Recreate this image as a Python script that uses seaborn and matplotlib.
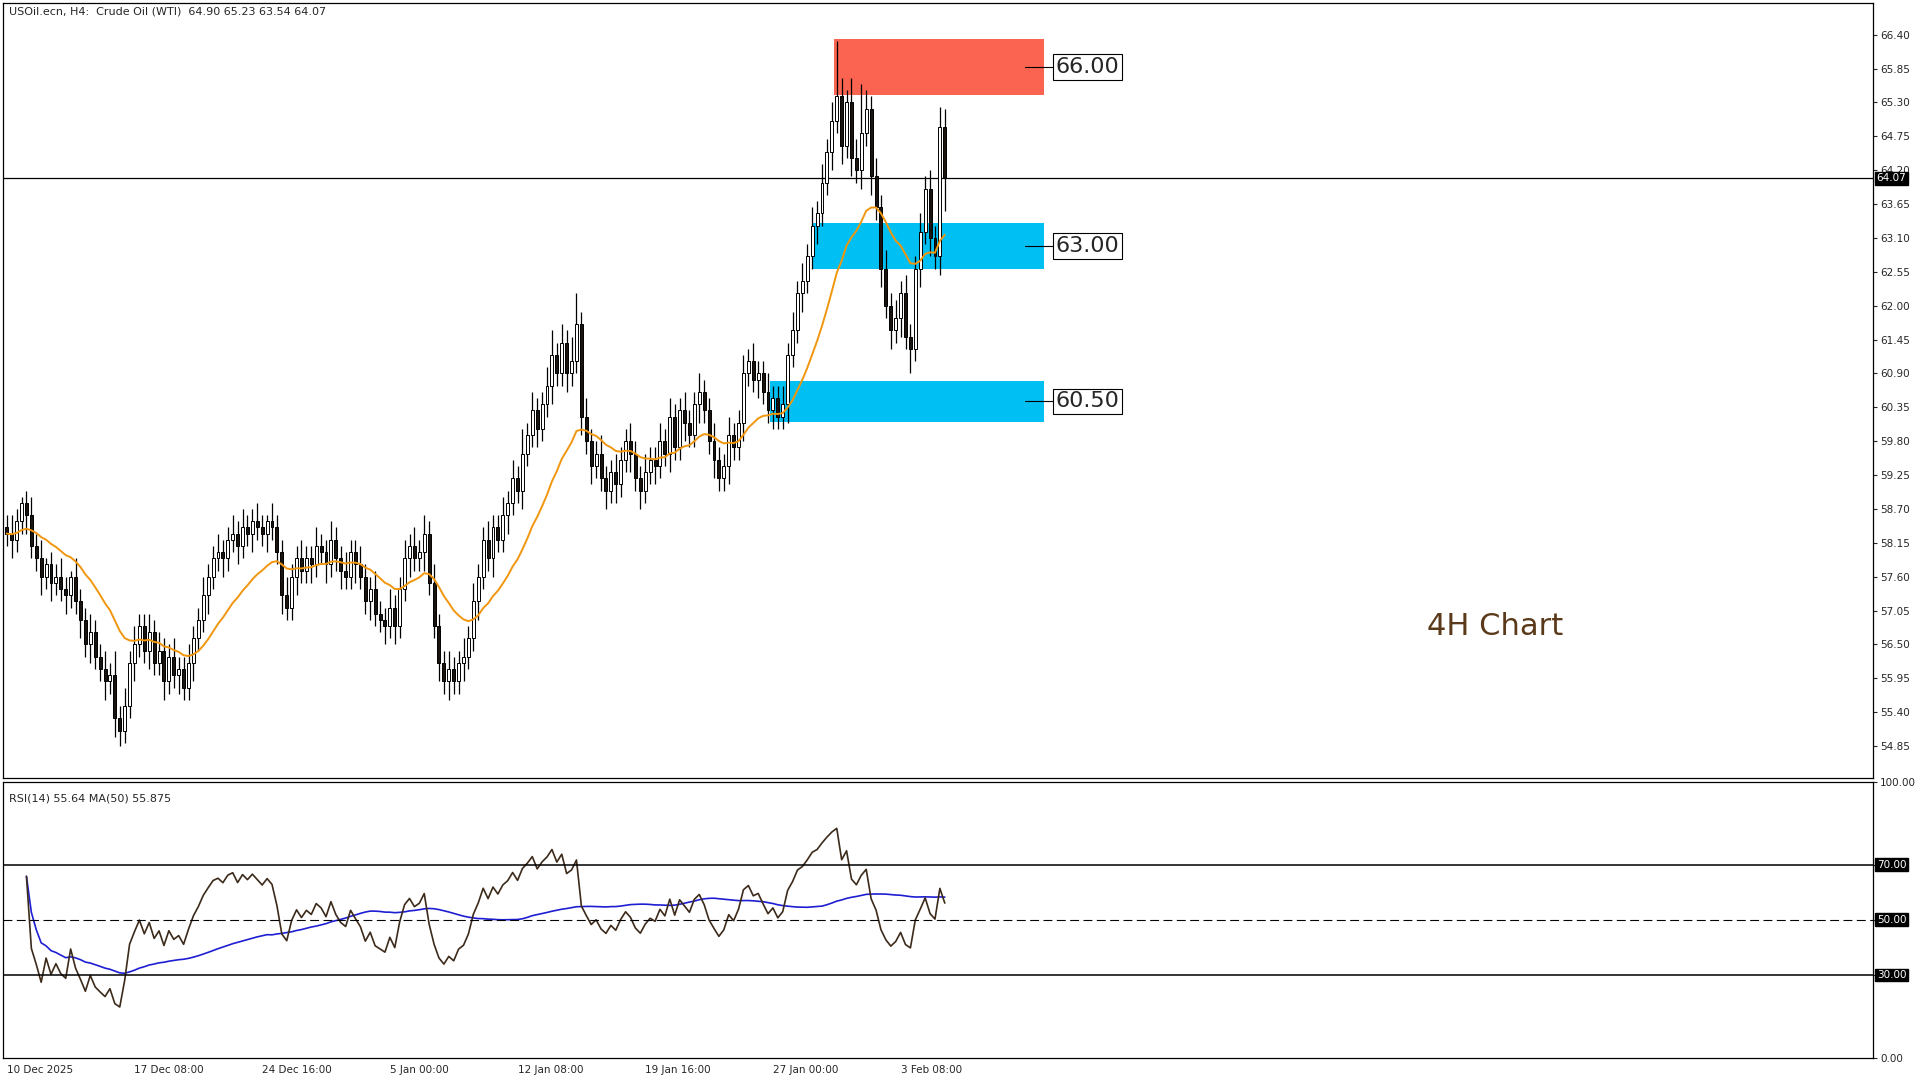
import numpy as np
import pandas as pd
import matplotlib
matplotlib.use("Agg")
import matplotlib.pyplot as plt
import seaborn as sns

# closes for each H4 bar
closes = [58.3,58.2,58.5,58.8,58.6,58.1,57.9,57.6,57.8,57.5,
          57.6,57.4,57.3,57.6,57.2,56.9,56.5,56.7,56.3,56.1,
          55.9,56.0,55.3,55.1,55.5,56.2,56.5,56.8,56.4,56.7,
          56.2,56.4,55.9,56.3,56.0,56.1,55.8,56.2,56.6,56.9,
          57.3,57.6,57.9,58.0,57.9,58.2,58.3,58.1,58.4,58.3,
          58.5,58.4,58.3,58.5,58.4,58.0,57.3,57.1,57.6,57.9,
          57.7,57.9,57.8,58.1,58.0,57.8,58.2,57.9,57.7,57.6,
          58.0,57.8,57.6,57.2,57.4,57.0,56.9,56.8,57.1,56.8,
          57.4,57.9,58.1,57.9,58.0,58.3,57.5,56.8,56.2,55.9,
          56.1,55.9,56.2,56.3,56.6,57.2,57.6,58.2,57.9,58.4,
          58.2,58.6,58.8,59.2,59.0,59.6,59.9,60.3,60.0,60.4,
          60.7,61.2,60.9,61.4,60.9,61.1,61.7,60.2,59.8,59.4,
          59.6,59.2,59.0,59.3,59.1,59.5,59.8,59.6,59.2,59.0,
          59.3,59.5,59.4,59.8,59.6,60.2,59.7,60.3,60.1,59.9,
          60.4,60.6,60.3,59.8,59.5,59.2,59.4,59.9,59.7,60.1,
          60.9,61.1,60.8,60.9,60.6,60.3,60.5,60.2,60.4,61.2,
          61.6,62.2,62.4,62.8,63.3,63.5,64.0,64.5,65.0,65.4,
          64.6,65.3,64.4,64.2,64.8,65.2,64.1,63.6,62.6,62.0,
          61.6,61.8,62.2,61.5,61.3,62.6,63.2,63.9,63.1,62.8,
          64.90,64.07]
first_open = 58.4

upper_wick = [0.2,0.3,0.2,0.1,0.2,0.3,0.2,0.3,0.1,0.2,
              0.2,0.3,0.2,0.1,0.3,0.2,0.2,0.3,0.2,0.2,
              0.3,0.2,0.4,0.2,0.3,0.2,0.3,0.2,0.2,0.3,
              0.2,0.3,0.2,0.2,0.3,0.2,0.2,0.3,0.2,0.2,
              0.3,0.2,0.2,0.3,0.2,0.2,0.3,0.2,0.3,0.2,
              0.2,0.3,0.2,0.1,0.3,0.2,0.2,0.3,0.2,0.2,
              0.3,0.2,0.2,0.3,0.2,0.2,0.3,0.2,0.2,0.3,
              0.2,0.2,0.3,0.2,0.2,0.3,0.2,0.2,0.3,0.2,
              0.2,0.3,0.2,0.3,0.2,0.3,0.2,0.3,0.2,0.2,
              0.3,0.2,0.2,0.3,0.2,0.3,0.2,0.2,0.3,0.2,
              0.2,0.3,0.2,0.3,0.2,0.4,0.2,0.3,0.2,0.2,
              0.3,0.4,0.2,0.3,0.2,0.4,0.5,0.2,0.3,0.2,
              0.2,0.3,0.2,0.2,0.3,0.2,0.2,0.3,0.2,0.2,
              0.3,0.2,0.2,0.3,0.2,0.3,0.2,0.2,0.3,0.2,
              0.2,0.3,0.2,0.2,0.3,0.2,0.2,0.3,0.2,0.2,
              0.3,0.2,0.3,0.2,0.2,0.3,0.2,0.2,0.3,0.2,
              0.3,0.2,0.3,0.2,0.3,0.2,0.3,0.2,0.3,0.9,
              0.3,0.2,0.4,0.3,0.8,0.3,0.2,0.3,0.2,0.3,
              0.2,0.3,0.2,0.3,0.2,0.2,0.3,0.2,0.3,0.2,
              0.33,0.3]
lower_wick = [0.2,0.3,0.2,0.2,0.3,0.2,0.2,0.3,0.2,0.3,
              0.2,0.2,0.3,0.2,0.2,0.3,0.2,0.3,0.2,0.2,
              0.3,0.2,0.3,0.25,0.2,0.2,0.3,0.2,0.2,0.3,
              0.2,0.2,0.3,0.2,0.2,0.3,0.2,0.2,0.3,0.2,
              0.2,0.3,0.2,0.2,0.3,0.2,0.2,0.3,0.2,0.2,
              0.3,0.2,0.2,0.3,0.2,0.2,0.3,0.2,0.2,0.3,
              0.2,0.2,0.3,0.2,0.2,0.3,0.2,0.2,0.3,0.2,
              0.2,0.3,0.2,0.2,0.3,0.2,0.2,0.3,0.2,0.3,
              0.2,0.2,0.3,0.2,0.2,0.3,0.2,0.2,0.3,0.2,
              0.3,0.2,0.2,0.3,0.2,0.2,0.3,0.2,0.2,0.3,
              0.2,0.2,0.3,0.2,0.2,0.3,0.2,0.2,0.3,0.2,
              0.2,0.3,0.2,0.2,0.3,0.2,0.2,0.3,0.2,0.3,
              0.2,0.2,0.3,0.2,0.3,0.2,0.2,0.3,0.2,0.3,
              0.2,0.2,0.3,0.2,0.2,0.3,0.2,0.2,0.3,0.2,
              0.2,0.3,0.2,0.2,0.3,0.2,0.2,0.3,0.2,0.2,
              0.3,0.2,0.2,0.3,0.2,0.2,0.3,0.2,0.2,0.3,
              0.2,0.2,0.3,0.2,0.2,0.3,0.2,0.2,0.3,0.2,
              0.3,0.2,0.3,0.2,0.3,0.2,0.3,0.2,0.3,0.2,
              0.3,0.2,0.3,0.2,0.4,0.2,0.3,0.2,0.3,0.2,
              0.3,0.53]

date_pos = [0, 26, 52, 78, 104, 130, 156, 182]
date_labels = ["10 Dec 2025", "17 Dec 08:00", "24 Dec 16:00", "5 Jan 00:00",
               "12 Jan 08:00", "19 Jan 16:00", "27 Jan 00:00", "3 Feb 08:00"]

# support / resistance zones: level, bottom, top, start bar
zone_levels = ["66.00", "63.00", "60.50"]
zone_bottom = [65.42, 62.59, 60.12]
zone_top = [66.33, 63.35, 60.78]
zone_start = [168.5, 164.0, 155.5]
zone_end = 211.3
zone_colors = ["#fa6450", "#00bff3", "#00bff3"]

last_price = 64.07

# ---- data frame
df = pd.DataFrame({"close": closes, "up": upper_wick, "dn": lower_wick})
df["bar"] = np.arange(len(df))
df["open"] = [first_open] + closes[:-1]
df["high"] = df[["open", "close"]].max(axis=1) + df["up"]
df["low"] = df[["open", "close"]].min(axis=1) - df["dn"]
df["ma"] = df["close"].ewm(span=20, adjust=False).mean()

delta = df["close"].diff()
gain = delta.clip(lower=0).ewm(alpha=1/14, adjust=True, min_periods=4).mean()
loss = (-delta.clip(upper=0)).ewm(alpha=1/14, adjust=True, min_periods=4).mean()
df["rsi"] = 100 - 100 / (1 + gain / loss.replace(0, 1e-9))
df["rsi_ma"] = df["rsi"].rolling(50, min_periods=1).mean()

sns.set_style("white")
plt.rcParams["font.family"] = ["DejaVu Sans"]

fig = plt.figure(figsize=(19.2, 10.8), dpi=100)
ax = fig.add_axes([0.0015, 0.2795, 0.974, 0.718])
ax2 = fig.add_axes([0.0015, 0.0205, 0.974, 0.2557])

xmax = 380
ax.set_xlim(-0.8, xmax)
ax.set_ylim(54.33, 66.92)

# zones
for lvl, b, t, s, c in zip(zone_levels, zone_bottom, zone_top, zone_start, zone_colors):
    ax.fill_between([s, zone_end], b, t, color=c, lw=0, zorder=1)
    mid = (b + t) / 2
    ax.plot([zone_end - 4, zone_end + 2], [mid, mid], color="black", lw=0.8, zorder=3)
    ax.text(zone_end + 2.3, mid, lvl, fontsize=16, va="center", ha="left", zorder=4,
            bbox=dict(facecolor="white", edgecolor="black", lw=0.8, pad=2))

# candles
bull = df["close"] >= df["open"]
ax.vlines(df["bar"], df["low"], df["high"], color="black", lw=0.9, zorder=2)
ax.bar(df["bar"], (df["close"] - df["open"]).abs().clip(lower=0.02),
       bottom=df[["open", "close"]].min(axis=1), width=0.6,
       color=np.where(bull, "white", "#1a1410"), edgecolor="black", lw=0.7, zorder=2)
sns.lineplot(data=df, x="bar", y="ma", ax=ax, color="#f0960f", lw=1.4, zorder=3)

ax.axhline(last_price, color="black", lw=0.9, zorder=1)
ax.text(0.4, 66.78, "USOil.ecn, H4:  Crude Oil (WTI)  64.90 65.23 63.54 64.07",
        fontsize=8, va="center")
ax.text(303, 56.8, "4H Chart", fontsize=22, color="#5a3a1a", ha="center", va="center")

ax.yaxis.tick_right()
ax.set_yticks(np.arange(54.85, 66.41, 0.55))
ax.set_yticklabels([f"{v:.2f}" for v in np.arange(54.85, 66.41, 0.55)], fontsize=7.5)
ax.tick_params(axis="y", length=3, pad=2)
ax.set_xticks([])
ax.set_xlabel("")
ax.set_ylabel("")
ax.text(1.002, (last_price - 54.33) / (66.92 - 54.33), f"{last_price:.2f}",
        transform=ax.transAxes, fontsize=7.5, color="white", va="center", ha="left",
        bbox=dict(facecolor="black", edgecolor="black", pad=1))

# RSI panel
ax2.set_xlim(-0.8, xmax)
ax2.set_ylim(0, 100)
sns.lineplot(data=df, x="bar", y="rsi_ma", ax=ax2, color="#1e1ed2", lw=1.2)
sns.lineplot(data=df, x="bar", y="rsi", ax=ax2, color="#3c2a1a", lw=1.2)
ax2.axhline(70, color="black", lw=1.1)
ax2.axhline(30, color="black", lw=1.1)
ax2.axhline(50, color="black", lw=0.8, ls=(0, (8, 4)))
ax2.yaxis.tick_right()
ax2.set_yticks([0, 30, 50, 70, 100])
ax2.set_yticklabels(["0.00", "", "", "", "100.00"], fontsize=7.5)
for v in (30, 50, 70):
    ax2.text(1.002, v / 100, f"{v:.2f}", transform=ax2.transAxes, fontsize=7.5,
             color="white", va="center", ha="left",
             bbox=dict(facecolor="black", edgecolor="black", pad=1))
ax2.tick_params(axis="y", length=3, pad=2)
ax2.set_xticks(date_pos)
ax2.set_xticklabels(date_labels, fontsize=7.5, ha="left")
ax2.tick_params(axis="x", length=3, pad=2)
ax2.set_xlabel("")
ax2.set_ylabel("")
ax2.text(0.4, 94, "RSI(14) 55.64 MA(50) 55.875", fontsize=8, va="center")

for a in (ax, ax2):
    for sp in a.spines.values():
        sp.set_color("black")
        sp.set_linewidth(0.9)

fig.savefig("out.png", dpi=100, facecolor="white")
